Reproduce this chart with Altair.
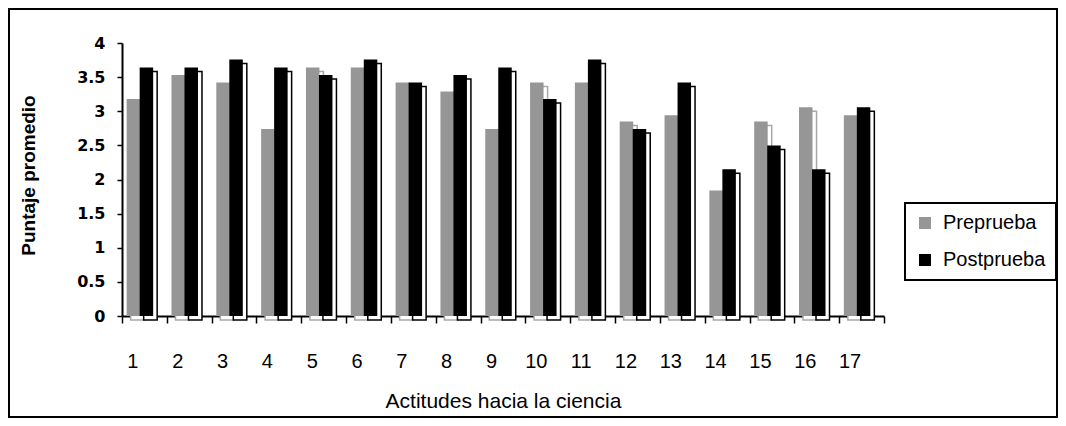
import altair as alt
import pandas as pd

categories = [str(i) for i in range(1, 18)]
series_names = ["Preprueba", "Postprueba"]
pre = [3.18, 3.53, 3.42, 2.74, 3.64, 3.64, 3.42, 3.29, 2.74, 3.42, 3.42, 2.85, 2.94, 1.84, 2.85, 3.06, 2.94]
post = [3.64, 3.64, 3.76, 3.64, 3.53, 3.76, 3.42, 3.53, 3.64, 3.18, 3.76, 2.74, 3.42, 2.15, 2.50, 2.15, 3.06]
y_ticks = [0, 0.5, 1, 1.5, 2, 2.5, 3, 3.5, 4]

rows = []
for c, a, b in zip(categories, pre, post):
    rows.append({"cat": c, "serie": "Preprueba", "valor": a})
    rows.append({"cat": c, "serie": "Postprueba", "valor": b})
df = pd.DataFrame(rows)

W, H = 762, 273
GRAY = "#969696"
BW = 13.5
OFF_PRE, OFF_POST = -11, 2

xscale = alt.Scale(paddingInner=0, paddingOuter=0)
xenc = alt.X(
    "cat:O",
    sort=categories,
    scale=xscale,
    axis=alt.Axis(
        title="Actitudes hacia la ciencia",
        labels=False,
        tickBand="extent",
        tickSize=7,
        tickColor="black",
        tickWidth=1.5,
        domainColor="black",
        domainWidth=2,
        titleFont="Liberation Sans",
        titleFontSize=21,
        titleFontWeight="normal",
        titleColor="black",
        titleY=91,
        titleBaseline="alphabetic",
    ),
)
yenc = alt.Y(
    "valor:Q",
    scale=alt.Scale(domain=[0, 4], nice=False),
    axis=alt.Axis(
        title="Puntaje promedio",
        values=y_ticks,
        format="~g",
        grid=False,
        labelFont="DejaVu Sans",
        labelFontWeight="bold",
        labelFontSize=16,
        labelColor="black",
        labelPadding=12,
        tickSize=5,
        tickColor="black",
        tickWidth=1.5,
        domainColor="black",
        domainWidth=2,
        titleFont="Liberation Sans",
        titleFontSize=19,
        titleFontWeight="bold",
        titleColor="black",
        titleX=-84,
        titleY=132,
    ),
)
color = alt.Color(
    "serie:N",
    scale=alt.Scale(domain=series_names, range=[GRAY, "black"]),
    legend=alt.Legend(
        title=None,
        orient="none",
        legendX=783,
        legendY=160,
        strokeColor="black",
        padding=10,
        symbolType="square",
        symbolSize=144,
        symbolStrokeWidth=0,
        labelFont="Liberation Sans",
        labelFontSize=20,
        labelColor="black",
        labelOffset=8,
        rowPadding=17,
    ),
)

base = alt.Chart(df)
pre_data = base.transform_filter(alt.datum.serie == "Preprueba")
post_data = base.transform_filter(alt.datum.serie == "Postprueba")

shadow_pre = pre_data.mark_bar(
    width=BW, xOffset=OFF_PRE + 4, yOffset=4, y2Offset=-4, fill="white", stroke="#a8a8a8", strokeWidth=1.5
).encode(x=xenc, y=yenc)
bar_pre = pre_data.mark_bar(width=BW, xOffset=OFF_PRE).encode(x=xenc, y=yenc, color=color)
shadow_post = post_data.mark_bar(
    width=BW, xOffset=OFF_POST + 4, yOffset=4, y2Offset=-4, fill="white", stroke="black", strokeWidth=1.5
).encode(x=xenc, y=yenc)
bar_post = post_data.mark_bar(width=BW, xOffset=OFF_POST).encode(x=xenc, y=yenc, color=color)

x_labels = pre_data.mark_text(
    font="Liberation Sans", fontSize=20, color="black", baseline="alphabetic", align="center", dx=-11.5
).encode(x=alt.X("cat:O", sort=categories, scale=xscale), y=alt.value(H + 52), text="cat:N")

frame_df = pd.DataFrame({"k": [0]})
frame = alt.Chart(frame_df).mark_rect(filled=False, stroke="black", strokeWidth=2).encode(
    x=alt.value(-113), x2=alt.value(935), y=alt.value(-34), y2=alt.value(374)
)

chart = alt.layer(shadow_pre, bar_pre, shadow_post, bar_post, x_labels, frame).properties(
    width=W,
    height=H,
    autosize=alt.AutoSizeParams(type="none"),
    padding={"left": 114, "top": 35, "right": 174, "bottom": 102},
).configure_view(stroke=None).configure_legend(strokeWidth=2)

chart.save("out.html", embed_options={"renderer": "svg", "actions": False})
